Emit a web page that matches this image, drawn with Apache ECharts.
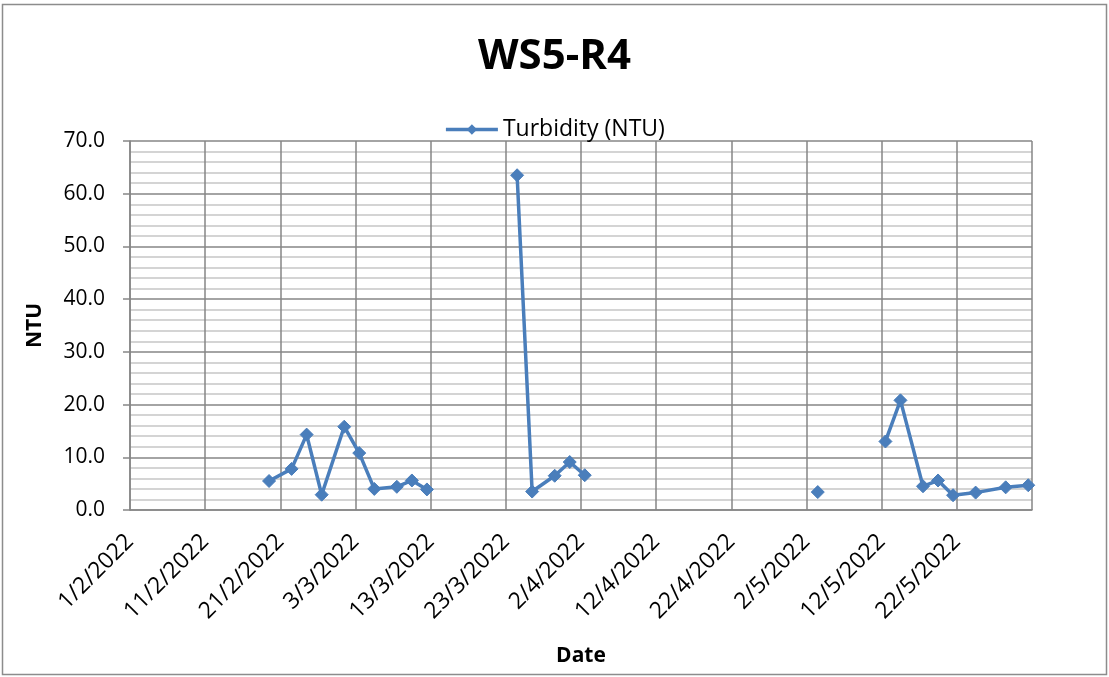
<!DOCTYPE html>
<html>
<head>
<meta charset="utf-8">
<title>WS5-R4</title>
<script src="https://cdn.jsdelivr.net/npm/echarts@6/dist/echarts.min.js"></script>
<style>
  html, body { margin: 0; padding: 0; background: #fff; }
  #chart { width: 1109px; height: 677px; }
</style>
</head>
<body>
<div id="chart"></div>
<script>
// Sampling dates (d/m/yyyy) and turbidity readings; null = no reading (breaks the line)
const sampleDates = [
  '19/2/2022', '22/2/2022', '24/2/2022', '26/2/2022', '1/3/2022',
  '3/3/2022', '5/3/2022', '8/3/2022', '10/3/2022', '12/3/2022',
  '17/3/2022',
  '24/3/2022', '26/3/2022', '29/3/2022', '31/3/2022', '2/4/2022',
  '16/4/2022',
  '3/5/2022',
  '8/5/2022',
  '12/5/2022', '14/5/2022', '17/5/2022', '19/5/2022', '21/5/2022',
  '24/5/2022', '28/5/2022', '31/5/2022'
];
const turbidity = [
  5.5, 7.8, 14.3, 2.9, 15.8,
  10.8, 4.0, 4.4, 5.6, 3.9,
  null,
  63.5, 3.5, 6.5, 9.1, 6.6,
  null,
  3.4,
  null,
  13.0, 20.8, 4.5, 5.6, 2.8,
  3.3, 4.3, 4.7
];

// Axis range: 1/2/2022 to 1/6/2022, tick every 10 days; value axis 0..70 step 10
const axisStart = '1/2/2022';
const axisDays = 120;
const dayStep = 10;
const yMin = 0, yMax = 70, yStep = 10;

const DAY_MS = 86400000;
function parseDMY(s) {
  const [d, m, y] = s.split('/').map(Number);
  return Date.UTC(y, m - 1, d);
}
const t0 = parseDMY(axisStart);
function formatDay(offset) {
  const dt = new Date(t0 + offset * DAY_MS);
  return dt.getUTCDate() + '/' + (dt.getUTCMonth() + 1) + '/' + dt.getUTCFullYear();
}

// Each reading sits in the middle of its day slot
const points = sampleDates.map((s, i) => [
  (parseDMY(s) - t0) / DAY_MS + 0.5,
  turbidity[i] == null ? '-' : turbidity[i]
]);

const FONT = '"Open Sans", "Liberation Sans", sans-serif';
const BLUE = '#4A7EBB';

const chart = echarts.init(document.getElementById('chart'), null, { renderer: 'canvas' });
chart.setOption({
  animation: false,
  backgroundColor: '#ffffff',
  title: {
    text: 'WS5-R4',
    left: 'center',
    top: 31,
    textStyle: { fontFamily: FONT, fontSize: 42, fontWeight: 'bold', color: '#000' }
  },
  legend: {
    top: 113,
    left: 'center',
    itemWidth: 52,
    itemHeight: 13,
    itemGap: 8,
    lineStyle: { width: 3.5 },
    textStyle: { fontFamily: FONT, fontSize: 23, color: '#000' },
    data: ['Turbidity (NTU)']
  },
  graphic: [{
    type: 'rect',
    silent: true,
    shape: { x: 2.5, y: 4.5, width: 1104, height: 670 },
    style: { fill: 'none', stroke: '#8c8c8c', lineWidth: 1.5 }
  }],
  grid: { left: 130, right: 77, top: 141, bottom: 167, containLabel: false },
  xAxis: {
    type: 'value',
    min: 0,
    max: axisDays,
    interval: dayStep,
    name: 'Date',
    nameLocation: 'middle',
    nameGap: 136,
    nameTextStyle: { fontFamily: FONT, fontSize: 21, fontWeight: 'bold', color: '#000' },
    axisLine: { show: true, lineStyle: { color: '#868686', width: 1.5 } },
    axisTick: { show: false },
    axisLabel: {
      rotate: 45,
      margin: 28,
      showMaxLabel: false,
      fontFamily: FONT,
      fontSize: 23,
      color: '#000',
      formatter: v => formatDay(v)
    },
    splitLine: { show: true, lineStyle: { color: '#868686', width: 1.5 } }
  },
  yAxis: {
    type: 'value',
    min: yMin,
    max: yMax,
    interval: yStep,
    name: 'NTU',
    nameLocation: 'middle',
    nameGap: 84,
    nameRotate: 90,
    nameTextStyle: { fontFamily: FONT, fontSize: 21, fontWeight: 'bold', color: '#000' },
    axisLine: { show: true, lineStyle: { color: '#868686', width: 1.5 } },
    axisTick: { show: true, length: 7, inside: false, lineStyle: { color: '#868686', width: 1.5 } },
    axisLabel: {
      margin: 25,
      fontFamily: FONT,
      fontSize: 21,
      color: '#000',
      formatter: v => v.toFixed(1)
    },
    splitLine: { show: true, lineStyle: { color: '#868686', width: 1.5 } },
    minorTick: { show: false, splitNumber: 5 },
    minorSplitLine: { show: true, lineStyle: { color: '#c6c6c6', width: 1.5 } }
  },
  series: [{
    name: 'Turbidity (NTU)',
    type: 'line',
    data: points,
    connectNulls: false,
    symbol: 'diamond',
    symbolSize: 13,
    showAllSymbol: true,
    lineStyle: { color: BLUE, width: 3.5 },
    itemStyle: { color: BLUE, borderColor: BLUE },
    emphasis: { disabled: true }
  }]
});
</script>
</body>
</html>
